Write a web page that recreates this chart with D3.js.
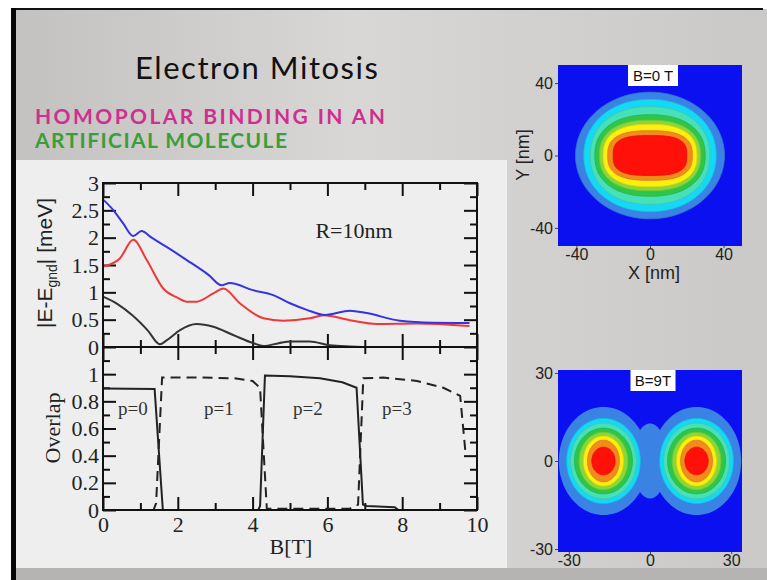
<!DOCTYPE html>
<html>
<head>
<meta charset="utf-8">
<script src="https://cdn.jsdelivr.net/npm/d3@7/dist/d3.min.js"></script>
<style>
  body { margin: 0; overflow: hidden; background: #fff; }
  svg { display: block; }
</style>
</head>
<body>
<svg id="slide" width="767" height="580"></svg>
<script>
// ---- values ----
var bTicks = [0, 2, 4, 6, 8, 10];
var bMinor = [1, 3, 5, 7, 9];
var eTicks = [0, 0.5, 1, 1.5, 2, 2.5, 3];
var eMinor = [0.25, 0.75, 1.25, 1.75, 2.25, 2.75];
var oTicks = [0, 0.2, 0.4, 0.6, 0.8, 1];
var oMinor = [0.1, 0.3, 0.5, 0.7, 0.9, 1.1];

// |E - Egnd| (meV) vs B (T)
var blueB = [0, 0.28, 0.54, 0.81, 1.03, 1.3, 1.7, 2.24, 2.82, 3.17, 3.39, 4.01, 4.55, 5.0, 5.45, 5.94, 6.6, 7.05, 7.94, 8.83, 9.8];
var blueE = [2.70, 2.5, 2.26, 2.03, 2.12, 2.0, 1.83, 1.59, 1.32, 1.13, 1.17, 1.04, 0.95, 0.80, 0.68, 0.585, 0.665, 0.62, 0.48, 0.445, 0.44];
var redB = [0, 0.45, 0.81, 1.17, 1.61, 2.0, 2.24, 2.5, 2.95, 3.22, 3.66, 4.29, 4.82, 5.53, 5.9, 6.6, 7.32, 8.39, 9.8];
var redE = [1.47, 1.62, 1.96, 1.59, 1.07, 0.9, 0.83, 0.83, 0.98, 1.07, 0.80, 0.525, 0.48, 0.525, 0.58, 0.49, 0.42, 0.43, 0.385];
var blackB = [0, 0.4, 0.8, 1.2, 1.52, 1.7, 2.06, 2.5, 2.95, 3.48, 4.02, 4.29, 4.7, 5.0, 5.53, 6.07, 6.6, 7.2, 8.5, 9.8];
var blackE = [0.92, 0.78, 0.57, 0.3, 0.05, 0.12, 0.31, 0.42, 0.37, 0.22, 0.07, 0.02, 0.07, 0.1, 0.1, 0.03, 0.01, 0, 0, 0];

// overlap vs B (T)
var solidB = [0, 1.38, 1.6, 4.15, 4.2, 4.33, 5.0, 5.8, 6.4, 6.78, 6.95, 7.05, 7.8, 7.9, 9.8];
var solidO = [0.895, 0.89, 0, 0, 0.03, 0.99, 0.985, 0.97, 0.94, 0.9, 0.04, 0.03, 0.02, 0, 0];
var dashB = [0, 1.35, 1.42, 1.58, 2.6, 3.5, 4.0, 4.2, 4.38, 6.6, 6.82, 6.96, 7.5, 8.4, 9.1, 9.55, 9.7];
var dashO = [0, 0, 0.05, 0.975, 0.975, 0.97, 0.95, 0.9, 0.01, 0.01, 0.04, 0.97, 0.975, 0.95, 0.9, 0.84, 0.4];

var parityText = ["p=0", "p=1", "p=2", "p=3"];
var parityB = [0.8, 3.1, 5.48, 7.86];

// density maps: filled contour levels, outermost first (nm)
var levelColors = ["#3a82e4", "#14d8f4", "#48e0b8", "#2ec64a", "#8ad838", "#ffee10", "#f28a1c", "#ff1008"];
var b0HalfX = [40.5, 36, 32.5, 30, 27.5, 25.5, 23, 20];
var b0HalfY = [35, 31, 27, 22.5, 19.5, 17.2, 13.7, 11];
var b0Power = [2, 2.1, 2.2, 2.3, 2.4, 2.5, 2.7, 3];
var b9HalfX = [16.5, 13.6, 12.2, 10.7, 9.0, 7.4, 5.9, 4.3];
var b9HalfY = [18.4, 14.5, 12.9, 11.2, 9.8, 8.5, 7.1, 4.7];
var b9Lobes = [-17.2, 17.2];
var b9Neck = [6.5, 12.8];
var map0Ticks = [-40, 0, 40];
var map9Ticks = [-30, 0, 30];

var svg = d3.select("#slide");
var serif = "'Liberation Serif', 'Times New Roman', serif";
var sans = "'Liberation Sans', Arial, sans-serif";
var hyphen = function (d) { return String(d).replace("\u2212", "-"); };

// ---- slide background ----
var defs = svg.append("defs");
var bg = defs.append("linearGradient").attr("id", "bg");
bg.append("stop").attr("offset", "0").attr("stop-color", "#c4c2c0");
bg.append("stop").attr("offset", "0.45").attr("stop-color", "#d8d7d5");
bg.append("stop").attr("offset", "1").attr("stop-color", "#cbc9c7");

svg.append("rect").attr("x", 16).attr("y", 9).attr("width", 751).attr("height", 571).attr("fill", "url(#bg)");
svg.append("rect").attr("x", 11).attr("y", 8).attr("width", 752).attr("height", 2).attr("fill", "#111");
svg.append("rect").attr("x", 11).attr("y", 8).attr("width", 5).attr("height", 572).attr("fill", "#050505");
svg.append("rect").attr("x", 16).attr("y", 160).attr("width", 491).attr("height", 408).attr("fill", "#eeeeee");
svg.append("rect").attr("x", 16).attr("y", 568).attr("width", 751).attr("height", 12).attr("fill", "#b5b4b3");

svg.append("text").attr("x", 135).attr("y", 79).attr("textLength", 243).attr("lengthAdjust", "spacing")
  .style("font-family", "Lato, 'Open Sans', sans-serif").style("font-size", "31px").style("fill", "#111")
  .text("Electron Mitosis");
svg.append("text").attr("x", 35).attr("y", 124).attr("textLength", 350).attr("lengthAdjust", "spacing")
  .style("font-family", "Lato, sans-serif").style("font-weight", "bold").style("font-size", "21px").style("fill", "#cf2f8f")
  .text("HOMOPOLAR  BINDING  IN  AN");
svg.append("text").attr("x", 35).attr("y", 148).attr("textLength", 252).attr("lengthAdjust", "spacing")
  .style("font-family", "Lato, sans-serif").style("font-weight", "bold").style("font-size", "21px").style("fill", "#3c9e3a")
  .text("ARTIFICIAL MOLECULE");

// ---- line plots ----
var x = d3.scaleLinear().domain([0, 10]).range([103, 477]);
var yE = d3.scaleLinear().domain([0, 3]).range([347, 183]);
var yO = d3.scaleLinear().domain([0, 1.2]).range([510, 347]);

function tickAxis(axis, scale, values, size, at, label) {
  var g = svg.append("g").attr("transform", at)
    .call(axis(scale).tickValues(values).tickSize(size).tickPadding(label ? 4 : 0)
      .tickFormat(label ? function (d) { return d; } : ""));
  g.select(".domain").remove();
  g.selectAll(".tick line").attr("stroke", "#111").attr("stroke-width", 2);
  g.selectAll(".tick text").style("font-family", serif).style("font-size", "22px").style("fill", "#222");
  return g;
}

// top panel ticks
tickAxis(d3.axisTop, x, bTicks, -13, "translate(0,183)");
tickAxis(d3.axisTop, x, bMinor, -7, "translate(0,183)");
tickAxis(d3.axisBottom, x, bTicks, -13, "translate(0,347)");
tickAxis(d3.axisBottom, x, bMinor, -7, "translate(0,347)");
tickAxis(d3.axisLeft, yE, eTicks, -13, "translate(103,0)", true);
tickAxis(d3.axisLeft, yE, eMinor, -7, "translate(103,0)");
tickAxis(d3.axisRight, yE, eTicks, -13, "translate(477,0)");
tickAxis(d3.axisRight, yE, eMinor, -7, "translate(477,0)");
// bottom panel ticks
tickAxis(d3.axisTop, x, bTicks, -13, "translate(0,347)");
tickAxis(d3.axisTop, x, bMinor, -7, "translate(0,347)");
var bx = tickAxis(d3.axisBottom, x, bTicks, -13, "translate(0,510)", true);
bx.selectAll(".tick text").attr("y", 6);
tickAxis(d3.axisBottom, x, bMinor, -7, "translate(0,510)");
tickAxis(d3.axisLeft, yO, oTicks, -13, "translate(103,0)", true);
tickAxis(d3.axisLeft, yO, oMinor, -7, "translate(103,0)");
tickAxis(d3.axisRight, yO, oTicks, -13, "translate(477,0)");
tickAxis(d3.axisRight, yO, oMinor, -7, "translate(477,0)");

var lineE = d3.line().x(function (d) { return x(d[0]); }).y(function (d) { return yE(d[1]); }).curve(d3.curveMonotoneX);
var lineO = d3.line().x(function (d) { return x(d[0]); }).y(function (d) { return yO(d[1]); });

function drawE(bs, es, color) {
  svg.append("path").datum(d3.zip(bs, es)).attr("d", lineE)
    .attr("fill", "none").attr("stroke", color).attr("stroke-width", 2).attr("stroke-linejoin", "round");
}
drawE(blackB, blackE, "#333");
drawE(redB, redE, "#f0383c");
drawE(blueB, blueE, "#3434e0");

svg.append("path").datum(d3.zip(solidB, solidO)).attr("d", lineO)
  .attr("fill", "none").attr("stroke", "#222").attr("stroke-width", 2);
svg.append("path").datum(d3.zip(dashB, dashO)).attr("d", lineO)
  .attr("fill", "none").attr("stroke", "#222").attr("stroke-width", 2).attr("stroke-dasharray", "10,6");

svg.append("rect").attr("x", x(0)).attr("y", yE(3)).attr("width", x(10) - x(0)).attr("height", yE(0) - yE(3))
  .attr("fill", "none").attr("stroke", "#111").attr("stroke-width", 2);
svg.append("rect").attr("x", x(0)).attr("y", yO(1.2)).attr("width", x(10) - x(0)).attr("height", yO(0) - yO(1.2))
  .attr("fill", "none").attr("stroke", "#111").attr("stroke-width", 2);

svg.selectAll(".parity").data(parityText).enter().append("text")
  .attr("x", function (d, i) { return x(parityB[i]); }).attr("y", yO(0.7))
  .attr("text-anchor", "middle").style("font-family", serif).style("font-size", "19px").style("fill", "#333")
  .text(function (d) { return d; });

svg.append("text").attr("x", 354).attr("y", 238).attr("text-anchor", "middle")
  .style("font-family", serif).style("font-size", "22px").style("fill", "#222").text("R=10nm");
svg.append("text").attr("x", 291).attr("y", 554).attr("text-anchor", "middle")
  .style("font-family", serif).style("font-size", "22px").style("fill", "#222").text("B[T]");
svg.append("text").attr("transform", "translate(60,428) rotate(-90)").attr("text-anchor", "middle")
  .style("font-family", serif).style("font-size", "22px").style("fill", "#222").text("Overlap");
var yt = svg.append("text").attr("transform", "translate(52,263) rotate(-90)").attr("text-anchor", "middle")
  .style("font-family", sans).style("font-size", "21px").style("fill", "#222");
yt.append("tspan").text("|E-E");
yt.append("tspan").attr("dy", 5).style("font-size", "14px").text("gnd");
yt.append("tspan").attr("dy", -5).text("| [meV]");

// ---- density maps ----
function superEllipse(cx, cy, a, b, n) {
  return d3.range(96).map(function (i) {
    var t = i / 96 * 2 * Math.PI, c = Math.cos(t), s = Math.sin(t);
    return [cx + a * Math.sign(c) * Math.pow(Math.abs(c), 2 / n),
            cy + b * Math.sign(s) * Math.pow(Math.abs(s), 2 / n)];
  });
}

function mapFrame(mx, my, ticks, caption, boxW) {
  var g = svg.append("g");
  var x0 = mx.range()[0], x1 = mx.range()[1], y0 = my.range()[1], y1 = my.range()[0];
  g.append("rect").attr("x", x0).attr("y", y0).attr("width", x1 - x0).attr("height", y1 - y0).attr("fill", "#0a10f0");
  var xa = svg.append("g").attr("transform", "translate(0," + y1 + ")")
    .call(d3.axisBottom(mx).tickValues(ticks).tickSize(2).tickPadding(1).tickFormat(hyphen));
  var ya = svg.append("g").attr("transform", "translate(" + x0 + ",0)")
    .call(d3.axisLeft(my).tickValues(ticks).tickSize(3).tickPadding(2).tickFormat(hyphen));
  [xa, ya].forEach(function (a) {
    a.select(".domain").remove();
    a.selectAll(".tick line").attr("stroke", "#444");
    a.selectAll(".tick text").style("font-family", sans).style("font-size", "16px").style("fill", "#222");
  });
  var cx = (x0 + x1) / 2;
  svg.append("rect").attr("x", cx - boxW / 2 + 3).attr("y", y0).attr("width", boxW).attr("height", 21).attr("fill", "#fff");
  svg.append("text").attr("x", cx + 3).attr("y", y0 + 16).attr("text-anchor", "middle")
    .style("font-family", sans).style("font-size", "15px").style("fill", "#111").text(caption);
  return g;
}

var mx0 = d3.scaleLinear().domain([-50, 50]).range([558, 742]);
var my0 = d3.scaleLinear().domain([-50, 50]).range([246, 65]);
var g0 = mapFrame(mx0, my0, map0Ticks, "B=0 T", 50);
var ring0 = d3.line().x(function (d) { return mx0(d[0]); }).y(function (d) { return my0(d[1]); }).curve(d3.curveLinearClosed);
levelColors.forEach(function (c, i) {
  g0.append("path").attr("d", ring0(superEllipse(0, 0, b0HalfX[i], b0HalfY[i], b0Power[i])))
    .attr("fill", c).attr("stroke", d3.color(c).darker(0.3)).attr("stroke-width", 0.8);
});

var mx9 = d3.scaleLinear().domain([-34, 34]).range([558, 742]);
var my9 = d3.scaleLinear().domain([-31, 31]).range([552, 370]);
var g9 = mapFrame(mx9, my9, map9Ticks, "B=9T", 45);
var ring9 = d3.line().x(function (d) { return mx9(d[0]); }).y(function (d) { return my9(d[1]); }).curve(d3.curveLinearClosed);
g9.append("path").attr("d", ring9(superEllipse(0, 0, b9Neck[0], b9Neck[1], 2))).attr("fill", levelColors[0]);
levelColors.forEach(function (c, i) {
  b9Lobes.forEach(function (cx) {
    g9.append("path").attr("d", ring9(superEllipse(cx, 0, b9HalfX[i], b9HalfY[i], 2)))
      .attr("fill", c).attr("stroke", i ? d3.color(c).darker(0.3) : "none").attr("stroke-width", 0.8);
  });
});

svg.append("text").attr("x", 654).attr("y", 279).attr("text-anchor", "middle")
  .style("font-family", sans).style("font-size", "18px").style("fill", "#222").text("X [nm]");
svg.append("text").attr("transform", "translate(529,155) rotate(-90)").attr("text-anchor", "middle")
  .style("font-family", sans).style("font-size", "18px").style("fill", "#222").text("Y [nm]");
</script>
</body>
</html>
